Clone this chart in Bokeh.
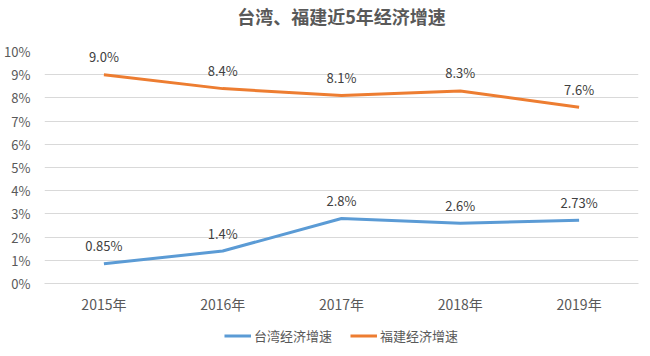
from bokeh.plotting import figure
from bokeh.layouts import column
from bokeh.models import ColumnDataSource, Legend, LegendItem, PrintfTickFormatter, FixedTicker, Range1d, Title
from bokeh.core.properties import value
from bokeh.embed import file_html
from bokeh.resources import INLINE

years = ["2015年", "2016年", "2017年", "2018年", "2019年"]
taiwan = [0.85, 1.4, 2.8, 2.6, 2.73]
fujian = [9.0, 8.4, 8.1, 8.3, 7.6]
taiwan_labels = ["0.85%", "1.4%", "2.8%", "2.6%", "2.73%"]
fujian_labels = ["9.0%", "8.4%", "8.1%", "8.3%", "7.6%"]
series_names = ["台湾经济增速", "福建经济增速"]
y_ticks = [0, 1, 2, 3, 4, 5, 6, 7, 8, 9, 10]

CJK = "Noto Sans CJK SC"
GRAY = "#595959"
BLUE = "#5B9BD5"
ORANGE = "#ED7D31"

src_t = ColumnDataSource(dict(x=years, y=taiwan, lab=taiwan_labels))
src_f = ColumnDataSource(dict(x=years, y=fujian, lab=fujian_labels))

p = figure(frame_width=594, frame_height=232, x_range=years, y_range=Range1d(0, 10),
           output_backend="svg", toolbar_location=None,
           title="台湾、福建近5年经济增速")
p.min_border_left = 44
p.min_border_right = 12
p.min_border_top = 0
p.min_border_bottom = 0
p.outline_line_color = None
p.background_fill_color = "white"
p.border_fill_color = "white"

p.title.align = "center"
p.title.text_font = CJK
p.title.text_font_size = "18px"
p.title.text_font_style = "bold"
p.title.text_color = GRAY
p.title.offset = 0
p.title.standoff = 0

# spacer between title and plot frame
p.add_layout(Title(text=" ", text_font_size="19px", standoff=0), "above")

p.yaxis.ticker = FixedTicker(ticks=y_ticks)
p.yaxis.formatter = PrintfTickFormatter(format="%d%%")
p.yaxis.axis_line_color = None
p.yaxis.major_tick_line_color = None
p.yaxis.minor_tick_line_color = None
p.yaxis.major_label_text_color = GRAY
p.yaxis.major_label_text_font = CJK
p.yaxis.major_label_text_font_size = "13px"
p.yaxis.major_label_standoff = 8

p.xaxis.axis_line_color = "#d9d9d9"
p.xaxis.major_tick_line_color = None
p.xaxis.minor_tick_line_color = None
p.xaxis.major_label_text_color = GRAY
p.xaxis.major_label_text_font = CJK
p.xaxis.major_label_text_font_size = "14px"
p.xaxis.major_label_standoff = 4

p.xgrid.grid_line_color = None
p.ygrid.grid_line_color = "#d9d9d9"
p.ygrid.grid_line_width = 1

r_t = p.line("x", "y", source=src_t, line_color=BLUE, line_width=3)
r_f = p.line("x", "y", source=src_f, line_color=ORANGE, line_width=3)

for src in (src_t, src_f):
    p.text("x", "y", text="lab", source=src, text_align="center",
           text_baseline="middle", y_offset=-18,
           text_font=value(CJK), text_font_size="13px",
           text_color="#404040")

# legend in a small strip below the chart (series drawn off-screen, only swatches show)
lg = figure(width=650, height=38, x_range=years, y_range=Range1d(20, 21),
            output_backend="svg", toolbar_location=None)
lg.min_border = 0
lg.axis.visible = False
lg.grid.visible = False
lg.outline_line_color = None
lg.border_fill_color = "white"
lt = lg.line("x", "y", source=src_t, line_color=BLUE, line_width=3)
lf = lg.line("x", "y", source=src_f, line_color=ORANGE, line_width=3)
legend = Legend(items=[LegendItem(label=series_names[0], renderers=[lt]),
                       LegendItem(label=series_names[1], renderers=[lf])],
                orientation="horizontal", location="center",
                label_text_font=CJK, label_text_font_size="13px",
                label_text_color=GRAY, glyph_width=27, glyph_height=12,
                label_standoff=3, spacing=18, padding=0, margin=0,
                label_height=18,
                border_line_color=None, background_fill_alpha=0)
lg.add_layout(legend, "center")

layout = column(p, lg, spacing=0)
open("out.html", "w").write(file_html(layout, INLINE))
